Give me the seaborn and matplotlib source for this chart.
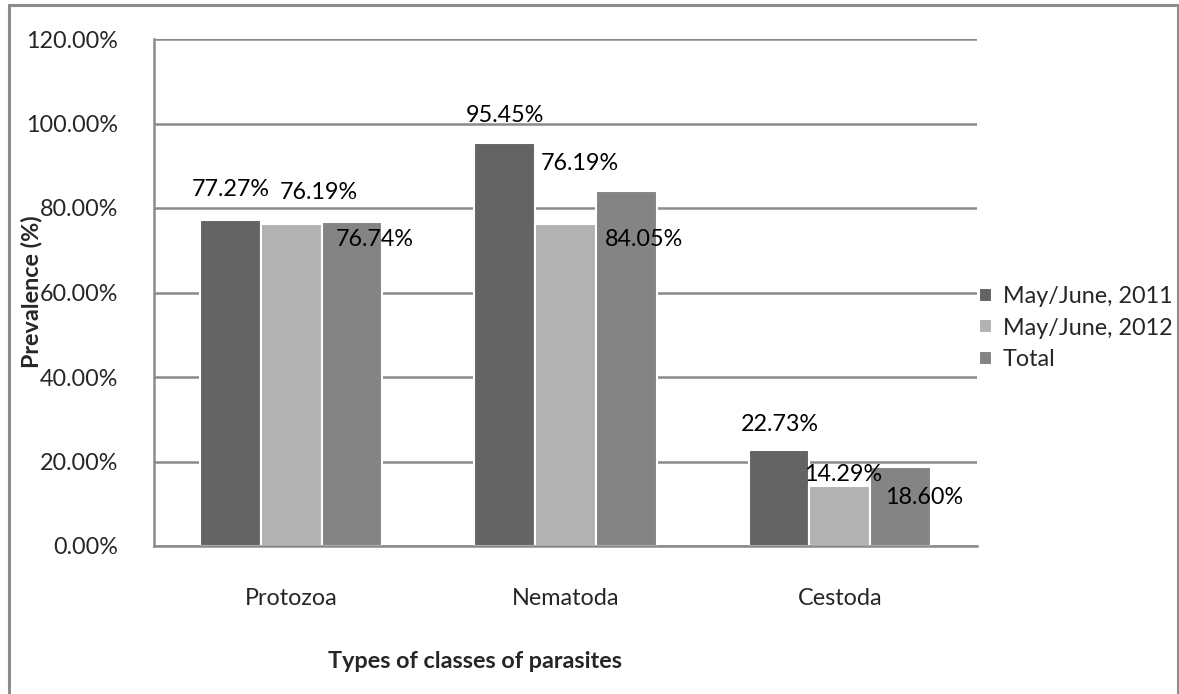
import pandas as pd
import matplotlib.pyplot as plt
import matplotlib.patches as mpatches
import seaborn as sns

# Data
categories = ["Protozoa", "Nematoda", "Cestoda"]
series_names = ["May/June, 2011", "May/June, 2012", "Total"]
values_2011 = [77.27, 95.45, 22.73]
values_2012 = [76.19, 76.19, 14.29]
values_total = [76.74, 84.05, 18.60]
y_ticks = [0, 20, 40, 60, 80, 100, 120]

colors = ["#646464", "#b2b2b2", "#848484"]

# Excel-like label placement (pixel offsets from bar top centre)
label_offsets = [
    [(0, 30), (28, 32), (23, -18)],
    [(0, 27), (14, 61), (18, -49)],
    [(1, 25), (3, 11), (24, -30)],
]

rows = []
for name, vals in zip(series_names, [values_2011, values_2012, values_total]):
    for cat, v in zip(categories, vals):
        rows.append({"category": cat, "series": name, "value": v})
df = pd.DataFrame(rows)

sns.set_style("white")
plt.rcParams["font.family"] = ["Lato", "DejaVu Sans"]
FS = 16.8

W, H = 1179, 694
fig = plt.figure(figsize=(W / 100, H / 100), dpi=100)
ax = fig.add_axes([154 / W, 1 - 546 / H, (977 - 154) / W, (546 - 39) / H])

sns.barplot(data=df, x="category", y="value", hue="series", order=categories,
            hue_order=series_names, palette=colors, width=0.664,
            edgecolor="white", linewidth=1.5, ax=ax, legend=True)

ax.set_ylim(0, 120)
ax.set_xlim(-0.5, 2.5)
ax.set_yticks(y_ticks)
ax.set_yticklabels([f"{t:.2f}%" for t in y_ticks], fontsize=FS)
ax.tick_params(axis="y", length=0, pad=26)
ax.tick_params(axis="x", length=0, pad=30, labelsize=FS)
ax.yaxis.grid(True, color="#8a8a8a", linewidth=1.8)
ax.set_axisbelow(True)
for s in ["top", "right"]:
    ax.spines[s].set_visible(False)
for s in ["left", "bottom"]:
    ax.spines[s].set_color("#8a8a8a")
    ax.spines[s].set_linewidth(1.8)

ax.set_xlabel("")
ax.set_ylabel("")
fig.text(475 / W, 1 - 662 / H, "Types of classes of parasites", fontsize=FS,
         fontweight="bold", ha="center", va="center")
fig.text(32 / W, 1 - 292 / H, "Prevalence (%)", fontsize=FS, fontweight="bold",
         rotation=90, ha="center", va="center")

# data labels
for si, container in enumerate(ax.containers):
    for ci, bar in enumerate(container):
        val = bar.get_height()
        dx, dy = label_offsets[ci][si]
        ax.annotate(f"{val:.2f}%", (bar.get_x() + bar.get_width() / 2, val),
                    xytext=(dx, dy), textcoords="offset pixels",
                    ha="center", va="center", fontsize=FS, color="black")

# legend on the right
handles, labels = ax.get_legend_handles_labels()
ax.get_legend().remove()
fig.legend(handles, labels, loc="center left", bbox_to_anchor=(970 / W, 1 - 328 / H),
           frameon=False, fontsize=FS, handlelength=0.55, handleheight=0.55,
           handletextpad=0.45, labelspacing=0.45, borderaxespad=0)

# outer chart border
fig.patches.append(mpatches.Rectangle((9 / W, -0.05), (1178 - 9) / W, 1.05 - 5 / H,
                                      transform=fig.transFigure, fill=False,
                                      edgecolor="#8c8c8c", linewidth=2.2))

fig.savefig("out.png", dpi=100)
plt.close(fig)
